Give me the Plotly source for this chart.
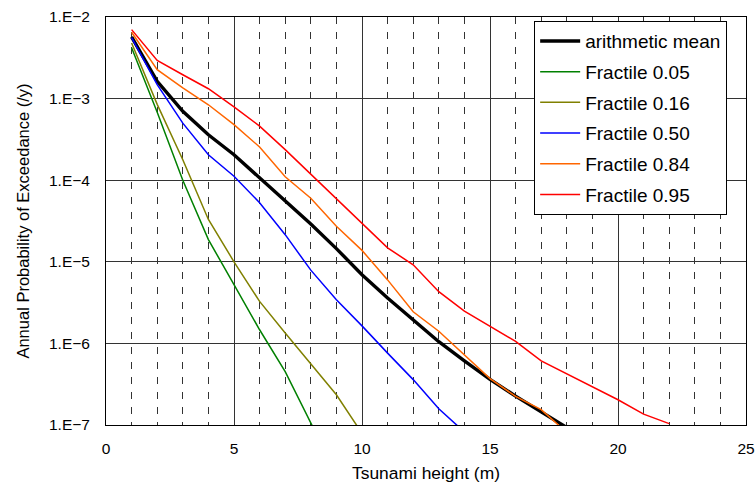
import plotly.graph_objects as go

# Tsunami height (m)
heights = [1, 2, 3, 4, 5, 6, 7, 8, 9, 10, 11, 12, 13, 14, 15, 16, 17, 18, 19, 20, 21, 22]

mean_vals = [5.7e-3, 1.63e-3, 7.0e-4, 3.6e-4, 2.05e-4, 1.07e-4, 5.7e-5, 2.9e-5, 1.45e-5, 6.95e-6,
             3.6e-6, 1.93e-6, 1.05e-6, 6.1e-7, 3.63e-7, 2.26e-7, 1.47e-7, 9.3e-8]
f05_vals = [4.2e-3, 6.8e-4, 1.0e-4, 1.87e-5, 5.25e-6, 1.47e-6, 4.5e-7, 1.05e-7, 2.5e-8]
f16_vals = [4.8e-3, 8.5e-4, 1.78e-4, 3.3e-5, 1.0e-5, 3.27e-6, 1.34e-6, 5.6e-7, 2.35e-7, 7.9e-8]
f50_vals = [5.6e-3, 1.48e-3, 5.0e-4, 2.05e-4, 1.12e-4, 5.3e-5, 2.15e-5, 7.9e-6, 3.43e-6, 1.64e-6,
            7.6e-7, 3.6e-7, 1.58e-7, 8.2e-8]
f84_vals = [6.5e-3, 2.26e-3, 1.35e-3, 8.4e-4, 4.8e-4, 2.55e-4, 1.1e-4, 6.0e-5, 2.72e-5, 1.38e-5,
            6.0e-6, 2.44e-6, 1.41e-6, 7.3e-7, 3.7e-7, 2.24e-7, 1.54e-7, 8.1e-8]
f95_vals = [7.0e-3, 2.94e-3, 1.96e-3, 1.32e-3, 7.9e-4, 4.6e-4, 2.37e-4, 1.19e-4, 6.0e-5, 3.0e-5,
            1.48e-5, 9.2e-6, 4.3e-6, 2.48e-6, 1.63e-6, 1.06e-6, 6.1e-7, 4.25e-7, 2.97e-7, 2.04e-7,
            1.36e-7, 1.04e-7]

series_names = ["arithmetic mean", "Fractile 0.05", "Fractile 0.16",
                "Fractile 0.50", "Fractile 0.84", "Fractile 0.95"]
series_vals = [mean_vals, f05_vals, f16_vals, f50_vals, f84_vals, f95_vals]
series_colors = ["#000000", "#008000", "#808000", "#0000ff", "#ff6600", "#ff0000"]
series_widths = [3.4, 1.5, 1.5, 1.5, 1.5, 1.5]

y_tickvals = [1e-7, 1e-6, 1e-5, 1e-4, 1e-3, 1e-2]
y_ticktext = ["1.E\u22127", "1.E\u22126", "1.E\u22125", "1.E\u22124", "1.E\u22123", "1.E\u22122"]
x_tickvals = [0, 5, 10, 15, 20, 25]

FONT = "Liberation Sans, Arial, sans-serif"
GRID = "#333333"

fig = go.Figure()
for i, (name, vals, col, w) in enumerate(zip(series_names, series_vals, series_colors, series_widths)):
    fig.add_trace(go.Scatter(
        x=heights[:len(vals)], y=vals, mode="lines", name=name,
        line=dict(color=col, width=w), legendgroup=f"g{i}",
        showlegend=True,
    ))

fig.update_layout(
    width=755, height=486,
    margin=dict(l=106, r=9, t=17, b=61, autoexpand=False),
    paper_bgcolor="white", plot_bgcolor="white",
    font=dict(family=FONT, size=16, color="#000000"),
    showlegend=True,
    legend=dict(
        x=0.669, y=0.990, xanchor="left", yanchor="top",
        bgcolor="white", bordercolor="#000000", borderwidth=1,
        font=dict(family=FONT, size=19, color="#000000"),
        traceorder="grouped", tracegroupgap=3.0, itemwidth=40,
        entrywidth=140, entrywidthmode="pixels",
    ),
    xaxis=dict(
        range=[0, 25], tickvals=x_tickvals, ticktext=[str(v) for v in x_tickvals],
        showgrid=True, gridcolor=GRID, gridwidth=1,
        minor=dict(dtick=1, showgrid=True, gridcolor=GRID, gridwidth=1, griddash="7px,8px"),
        showline=True, linecolor="#000000", linewidth=1, mirror=True,
        ticks="", ticklabelstandoff=9, automargin=False, ticklabeloverflow="allow",
        tickfont=dict(family=FONT, size=15.5),
        title=dict(text="Tsunami height (m)", font=dict(family=FONT, size=17.4), standoff=11),
        zeroline=False,
    ),
    yaxis=dict(
        type="log", range=[-7, -2], tickvals=y_tickvals, ticktext=y_ticktext,
        showgrid=True, gridcolor=GRID, gridwidth=1,
        showline=True, linecolor="#000000", linewidth=1, mirror=True,
        ticks="", ticklabelstandoff=12, automargin=False,
        tickfont=dict(family=FONT, size=15.5),
        title=dict(text="Annual Probability of Exceedance (/y)", font=dict(family=FONT, size=16.5)),
        zeroline=False,
    ),
)

# remove the default 8px page margin so the figure fills the 755x486 window exactly
fig.write_html("out.html", config={"displayModeBar": False},
               post_script="document.body.style.margin='0';")
